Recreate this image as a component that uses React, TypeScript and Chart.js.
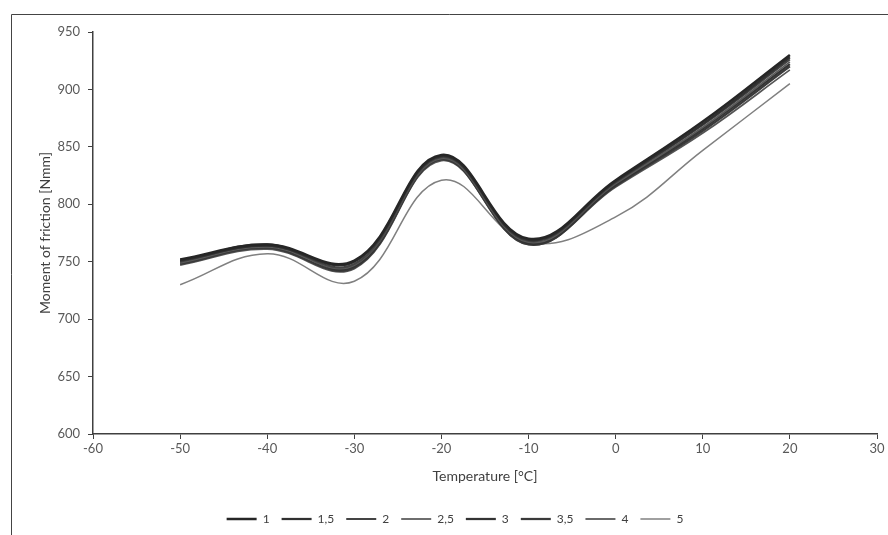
import React, { useEffect, useRef } from "react";
import { Chart, registerables } from "chart.js";

Chart.register(...registerables);

const temperatures = [-50, -40, -30, -20, -10, 0, 10, 20];
const seriesNames = ["1", "1,5", "2", "2,5", "3", "3,5", "4", "5"];
const s1 = [752, 765, 751, 843, 770, 821, 872, 930];
const s15 = [751, 764, 750, 842, 769, 820, 870, 928];
const s2 = [750, 764, 748, 841, 768, 819, 869, 926];
const s25 = [749, 763, 747, 840, 767, 818, 867, 924];
const s3 = [750, 765, 746, 842, 766, 817, 866, 922];
const s35 = [748, 762, 745, 839, 765, 816, 864, 920];
const s4 = [747, 761, 744, 838, 765, 815, 862, 917];
const s5 = [730, 757, 733, 821, 767, 789, 847, 905];
const xTicks = [-60, -50, -40, -30, -20, -10, 0, 10, 20, 30];
const yTicks = [600, 650, 700, 750, 800, 850, 900, 950];

const allSeries = [s1, s15, s2, s25, s3, s35, s4, s5];
const colors = ["#262626", "#303030", "#444444", "#5a5a5a", "#333333", "#3a3a3a", "#555555", "#808080"];
const widths = [2.5, 2.25, 2, 1.75, 2.25, 2.25, 1.75, 1.5];

const FONT = "Lato, 'Open Sans', sans-serif";

const framePlugin = {
  id: "frame",
  beforeDraw(chart: any) {
    const ctx = chart.ctx;
    ctx.save();
    ctx.fillStyle = "#ffffff";
    ctx.fillRect(0, 0, chart.width, chart.height);
    ctx.strokeStyle = "#444444";
    ctx.lineWidth = 1;
    ctx.beginPath();
    ctx.moveTo(11.5, chart.height);
    ctx.lineTo(11.5, 14.5);
    ctx.lineTo(chart.width, 14.5);
    ctx.stroke();
    ctx.restore();
  },
};

export default function App() {
  const ref = useRef<HTMLCanvasElement>(null);
  useEffect(() => {
    if (!ref.current) return;
    const chart = new Chart(ref.current, {
      type: "line",
      data: {
        datasets: allSeries.map((vals, i) => ({
          label: seriesNames[i],
          data: temperatures.map((t, j) => ({ x: t, y: vals[j] })),
          borderColor: colors[i],
          backgroundColor: colors[i],
          borderWidth: widths[i],
          pointRadius: 0,
          tension: 0.4,
          fill: false,
        })),
      },
      options: {
        animation: false,
        responsive: false,
        maintainAspectRatio: false,
        layout: { padding: { left: 33, right: 11, top: 32, bottom: 0 } },
        plugins: {
          legend: {
            position: "bottom",
            labels: {
              usePointStyle: true,
              pointStyle: "line",
              pointStyleWidth: 30,
              boxWidth: 30,
              boxHeight: 12,
              padding: 12,
              color: "#404040",
              font: { family: FONT, size: 12 },
            },
          },
          tooltip: { enabled: false },
        },
        scales: {
          x: {
            type: "linear",
            min: -60,
            max: 30,
            afterBuildTicks: (s: any) => {
              s.ticks = xTicks.map((v) => ({ value: v }));
            },
            afterFit: (s: any) => {
              s.height = 67;
            },
            ticks: { color: "#595959", font: { family: FONT, size: 13 }, padding: 2, maxRotation: 0 },
            grid: { display: true, drawOnChartArea: false, drawTicks: true, tickLength: 5, color: "#404040" },
            border: { display: true, color: "#404040", width: 1.5 },
            title: {
              display: true,
              text: "Temperature [°C]",
              color: "#404040",
              font: { family: FONT, size: 14 },
              padding: { top: 6, bottom: 16 },
            },
          },
          y: {
            type: "linear",
            min: 600,
            max: 950,
            afterBuildTicks: (s: any) => {
              s.ticks = yTicks.map((v) => ({ value: v }));
            },
            afterFit: (s: any) => {
              s.width = 60;
            },
            ticks: { color: "#595959", font: { family: FONT, size: 13 }, padding: 8 },
            grid: { display: true, drawOnChartArea: false, drawTicks: true, tickLength: 5, color: "#404040" },
            border: { display: true, color: "#404040", width: 1.5 },
            title: {
              display: true,
              text: "Moment of friction [Nmm]",
              color: "#404040",
              font: { family: FONT, size: 14 },
              padding: { top: 4, bottom: 4 },
            },
          },
        },
      },
      plugins: [framePlugin],
    });
    return () => chart.destroy();
  }, []);
  return (
    <div style={{ position: "absolute", left: 0, top: 0, width: 888, height: 535, background: "#fff" }}>
      <canvas ref={ref} width={888} height={535} style={{ width: 888, height: 535, display: "block" }} />
    </div>
  );
}
